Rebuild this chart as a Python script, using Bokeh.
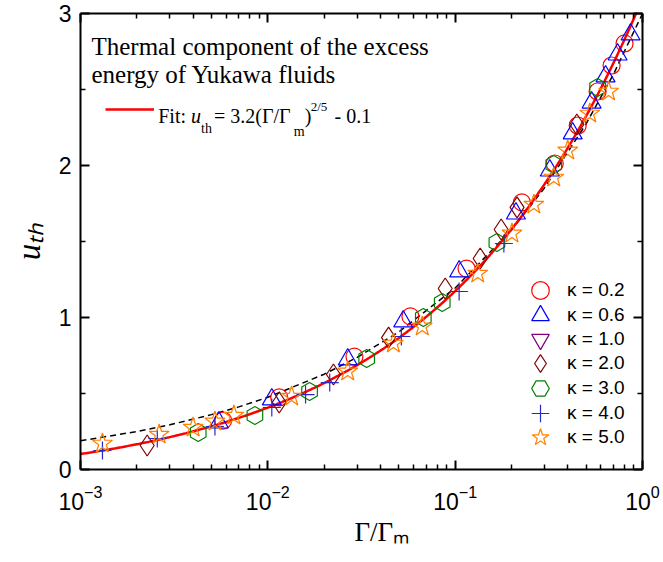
import numpy as np
from bokeh.plotting import figure
from bokeh.models import (Label, Legend, LegendItem, LinearAxis, LogAxis, FixedTicker,
                          Range1d, LogTickFormatter, Title)
from bokeh.embed import file_html
from bokeh.resources import INLINE

# ---------------- data ----------------
k02_x = [5.77e-3, 1.15e-2, 2.90e-2, 5.77e-2, 0.115, 0.227, 0.340, 0.451, 0.576, 0.684, 0.802]
k02_y = [0.322, 0.474, 0.743, 1.007, 1.322, 1.757, 2.013, 2.263, 2.487, 2.658, 2.803]

k06_x = [5.48e-3, 1.05e-2, 2.67e-2, 5.28e-2, 0.105, 0.211, 0.320, 0.424, 0.535, 0.635, 0.736, 0.864]
k06_y = [0.309, 0.461, 0.724, 0.974, 1.303, 1.684, 1.967, 2.211, 2.414, 2.586, 2.730, 2.862]

# κ = 1.0 : no point is visible in the picture (legend entry only)
k10_x = [float("nan")]
k10_y = [float("nan")]

k20_x = [2.27e-3, 1.15e-2, 2.24e-2, 4.41e-2, 8.85e-2, 0.136, 0.176, 0.214, 0.446]
k20_y = [0.158, 0.441, 0.625, 0.868, 1.191, 1.388, 1.579, 1.724, 2.270]

k30_x = [4.25e-3, 8.53e-3, 1.67e-2, 3.37e-2, 6.76e-2, 8.53e-2, 0.167, 0.336, 0.576]
k30_y = [0.243, 0.355, 0.513, 0.730, 1.000, 1.099, 1.493, 2.007, 2.513]

k40_x = [1.31e-3, 2.57e-3, 5.22e-3, 1.05e-2, 1.59e-2, 2.14e-2, 5.16e-2, 0.105, 0.182]
k40_y = [0.125, 0.204, 0.283, 0.408, 0.493, 0.572, 0.875, 1.171, 1.487]

k50_x = [1.31e-3, 2.63e-3, 3.99e-3, 5.22e-3, 6.59e-3, 1.34e-2, 2.67e-2, 4.68e-2, 6.67e-2,
         0.132, 0.201, 0.263, 0.336, 0.399, 0.523, 0.659]
k50_y = [0.171, 0.230, 0.276, 0.316, 0.355, 0.480, 0.645, 0.829, 0.941,
         1.289, 1.553, 1.743, 1.921, 2.099, 2.342, 2.487]

# dashed reference curve
dash_x = [1e-3, 2e-3, 3e-3, 5e-3, 7e-3, 1e-2, 2e-2, 3e-2, 5e-2, 0.1, 0.2, 0.3, 0.5, 0.7, 1.0]
dash_y = [0.189, 0.250, 0.294, 0.361, 0.412, 0.475, 0.627, 0.738, 0.905, 1.194, 1.576, 1.853,
          2.274, 2.600, 3.0]

# fit: u_th = 3.2 (G/Gm)^(2/5) - 0.1
FIT_A, FIT_P, FIT_C = 3.2, 0.4, -0.1

legend_labels = ["κ = 0.2", "κ = 0.6", "κ = 1.0", "κ = 2.0", "κ = 3.0", "κ = 4.0", "κ = 5.0"]
x_ticks = [1e-3, 1e-2, 1e-1, 1.0]
y_ticks = [0, 1, 2, 3]
y_minor = [0.5, 1.5, 2.5]
x_title = "Γ/Γₘ"
y_title = "uₜₕ"

# ---------------- layout ----------------
W, H = 660, 560
FL, FT, FW, FH = 78, 13, 564, 456
FB = FT + FH   # frame bottom (canvas px)


def dx(px):
    return 10 ** (-3 + (px - FL) / (FW / 3))


def dy(py):
    return (FB - py) / (FH / 3)


p = figure(width=W, height=H, x_axis_type="log",
           x_range=Range1d(1e-3, 1.0), y_range=Range1d(0, 3),
           output_backend="svg", toolbar_location=None,
           min_border_left=FL, min_border_top=FT,
           min_border_right=W - FL - FW, min_border_bottom=H - FT - FH)
p.grid.visible = False
p.outline_line_color = None
p.background_fill_color = "white"
p.border_fill_color = "white"

x_minor = [m * 10.0 ** e for e in (-3, -2, -1) for m in range(2, 10)]
xt = FixedTicker(ticks=x_ticks, minor_ticks=x_minor)
yt = FixedTicker(ticks=y_ticks, minor_ticks=y_minor)

xa = p.xaxis[0]
ya = p.yaxis[0]
xa.ticker = xt
xa.formatter = LogTickFormatter()
ya.ticker = yt

top = LogAxis(ticker=xt)
right = LinearAxis(ticker=yt)
p.add_layout(top, "above")
p.add_layout(right, "right")

for ax in (xa, ya, top, right):
    ax.axis_line_width = 2
    ax.axis_line_color = "black"
    ax.major_tick_line_width = 2
    ax.minor_tick_line_width = 1.5
    ax.major_tick_in = 9
    ax.major_tick_out = 0
    ax.minor_tick_in = 5
    ax.minor_tick_out = 0
    ax.major_label_text_font = "Liberation Sans"
    ax.major_label_text_color = "black"
    ax.major_label_text_font_size = "23px"

for ax in (top, right):
    ax.major_label_text_font_size = "1px"
    ax.major_label_text_alpha = 0
    ax.major_label_standoff = 0

xa.major_label_standoff = 15
ya.major_label_standoff = 9

# axis titles (side panels, so they are not clipped to the frame)
p.add_layout(Title(text=x_title, align="left", offset=352 - FL, standoff=4,
                   text_font="Liberation Serif", text_font_size="27px",
                   text_font_style="normal", text_color="black"), "below")
p.add_layout(Title(text=y_title, align="center", standoff=17,
                   text_font="Liberation Serif", text_font_size="33px",
                   text_font_style="italic", text_color="black"), "left")

# ---------------- curves ----------------
fx = np.logspace(-3, 0, 400)
fy = FIT_A * fx ** FIT_P + FIT_C
p.line(dash_x, dash_y, line_color="black", line_width=1.5, line_dash="6 4")
fit_r = p.line(fx, fy, line_color="#ff0000", line_width=2.5)

# ---------------- markers ----------------
series = [
    (k02_x, k02_y, "circle", "#ff0000", 17, 0.0),
    (k06_x, k06_y, "triangle", "#0000ff", 19, 0.0),
    (k10_x, k10_y, "inverted_triangle", "#800080", 19, 0.0),
    (k20_x, k20_y, "diamond", "#800000", 21, 0.0),
    (k30_x, k30_y, "hex", "#008000", 18, np.pi / 2),
    (k40_x, k40_y, "cross", "#2828c8", 18, 0.0),
    (k50_x, k50_y, "star", "#ff8000", 21, 0.0),
]
rends = []
for xs, ys, mk, col, sz, ang in series:
    r = p.scatter(xs, ys, marker=mk, size=sz, angle=ang, fill_color=None,
                  line_color=col, line_width=1.2)
    rends.append(r)

# one legend box per entry so the legend markers keep their plot size
ROW0, PITCH, GB = 290, 24.5, 44
MX, TX = 538, 565   # legend marker centre / text start (canvas px)
for i, (labtxt, r) in enumerate(zip(legend_labels, rends)):
    cy = ROW0 + i * PITCH
    lg = Legend(items=[LegendItem(label=labtxt, renderers=[r])],
                location=(MX - GB // 2 - FL, int(round(FB - (cy + GB / 2)))),
                glyph_width=GB, glyph_height=GB, label_height=GB,
                label_standoff=TX - (MX + GB // 2), padding=0, margin=0,
                border_line_color=None, background_fill_alpha=0,
                label_text_font="Liberation Sans", label_text_font_size="19px",
                label_text_color="black")
    p.add_layout(lg)

fit_leg = Legend(items=[LegendItem(label="Fit", renderers=[fit_r])],
                 location=(25, 350), glyph_width=49, glyph_height=20, label_height=20,
                 padding=0, margin=0, label_standoff=0,
                 border_line_color=None, background_fill_alpha=0,
                 label_text_alpha=0, label_text_font_size="2px")
p.add_layout(fit_leg)

# ---------------- texts inside the frame ----------------
SERIF = "Liberation Serif"


def lab(px, py, text, size, style="normal"):
    p.add_layout(Label(x=dx(px), y=dy(py), text=text, text_font=SERIF,
                       text_font_size=f"{size}px", text_font_style=style,
                       text_color="black",
                       text_align="left", text_baseline="alphabetic"))


lab(89, 46, "Thermal component of the excess", 25)
lab(89, 74, "energy of Yukawa fluids", 25)

# Fit: u_th = 3.2(Γ/Γm)^{2/5} - 0.1
lab(156, 115, "Fit:", 20)
lab(189, 115, "u", 20, "italic")
lab(199, 128, "th", 14)
lab(212, 115, "= 3.2(Γ/Γ", 20)
lab(292, 131, "m", 14)
lab(303, 115, ")", 20)
lab(309, 106, "2/5", 13)
lab(333, 115, "- 0.1", 20)

open("out.html", "w").write(file_html(p, INLINE))
